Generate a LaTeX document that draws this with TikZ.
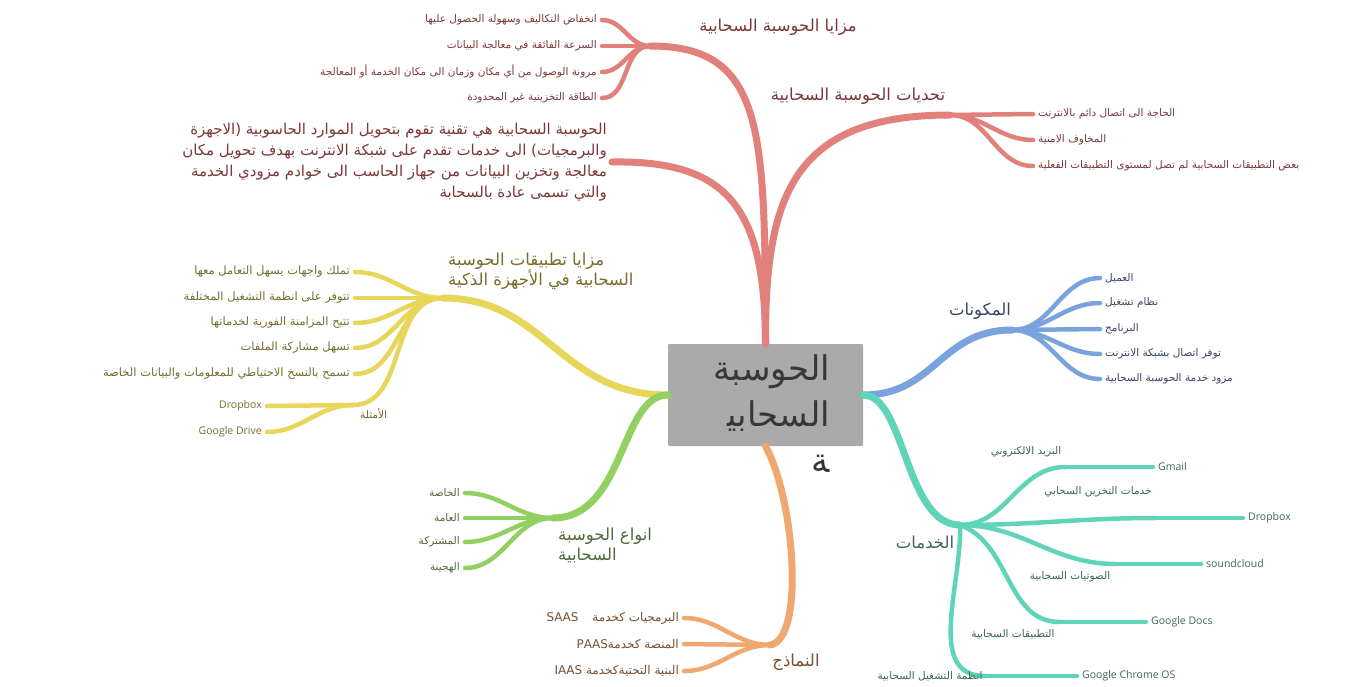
\documentclass[tikz,border=0pt]{standalone}
\usepackage{fontspec}
\setmainfont{Open Sans}
\newfontfamily\arabicfont[Script=Arabic]{DejaVu Sans}
\TeXXeTstate=1
\usetikzlibrary{positioning}
\newcommand{\artext}[1]{{\arabicfont\beginR #1\endR}}
\definecolor{redb}{RGB}{226,128,124}
\definecolor{redt}{RGB}{125,55,55}
\definecolor{yelb}{RGB}{232,214,90}
\definecolor{yelt}{RGB}{120,108,45}
\definecolor{grnb}{RGB}{146,208,98}
\definecolor{grnt}{RGB}{80,105,60}
\definecolor{orab}{RGB}{238,168,112}
\definecolor{orat}{RGB}{120,80,50}
\definecolor{blub}{RGB}{122,163,222}
\definecolor{blut}{RGB}{55,70,100}
\definecolor{tealb}{RGB}{96,212,184}
\definecolor{tealt}{RGB}{60,100,95}
\definecolor{boxg}{RGB}{170,170,170}
\tikzset{
  br/.style={line width=7pt, line cap=round},
  leaf/.style={line width=4.5pt, line cap=round},
  lbl/.style={font=\fontsize{16.5}{20}\selectfont, inner sep=2pt},
  sml/.style={font=\fontsize{10.5}{12}\selectfont, inner sep=5pt},
  lat/.style={font=\fontsize{10.5}{12}\selectfont, inner sep=5pt},
}
\begin{document}
\begin{tikzpicture}[x=1pt,y=-1pt]
\useasboundingbox[fill=white] (0,0) rectangle (1354,686);
\node[fill=boxg, rounded corners=1pt, minimum width=195pt, minimum height=102pt] (root) at (765.5,395) {};
% red
\coordinate (rj1) at (650,46);
\coordinate (rj2) at (950,115);
\draw[br, redb] (root.north) .. controls (765,130) and (765,46) .. (rj1);
\draw[br, redb] (root.north) .. controls (765,200) and (790,115) .. (rj2);
\node[lbl, redt] (rl1) at (778,27) {\artext{مزايا الحوسبة السحابية}};
\node[lbl, redt] (rl2) at (858,96) {\artext{تحديات الحوسبة السحابية}};
\node[sml, redt, anchor=east] (m1) at (602,20) {\artext{انخفاض التكاليف وسهولة الحصول عليها}};
\node[sml, redt, anchor=east] (m2) at (602,46) {\artext{السرعة الفائقة في معالجة البيانات}};
\node[sml, redt, anchor=east] (m3) at (602,72) {\artext{مرونة الوصول من أي مكان وزمان الى مكان الخدمة أو المعالجة}};
\node[sml, redt, anchor=east] (m4) at (602,98) {\artext{الطاقة التخزينية غير المحدودة}};
\draw[leaf, redb] (rj1) to[out=180,in=0] (m1.east);
\draw[leaf, redb] (rj1) -- (m2.east);
\draw[leaf, redb] (rj1) to[out=180,in=0] (m3.east);
\draw[leaf, redb] (rj1) to[out=180,in=0] (m4.east);
\node[sml, redt, anchor=west] (c1) at (1033,114) {\artext{الحاجة الى اتصال دائم بالانترنت}};
\node[sml, redt, anchor=west] (c2) at (1033,140) {\artext{المخاوف الامنية}};
\node[sml, redt, anchor=west] (c3) at (1033,166) {\artext{بعض التطبيقات السحابية لم تصل لمستوى التطبيقات الفعلية}};
\draw[leaf, redb] (rj2) -- (c1.west);
\draw[leaf, redb] (rj2) to[out=0,in=180] (c2.west);
\draw[leaf, redb] (rj2) to[out=0,in=180] (c3.west);
\node[redt, anchor=east, align=right, inner sep=5pt, font=\fontsize{15}{21}\selectfont] (rdef) at (612,162) {\artext{الحوسبة السحابية هي تقنية تقوم بتحويل الموارد الحاسوبية (الاجهزة}\\\artext{والبرمجيات) الى خدمات تقدم على شبكة الانترنت بهدف تحويل مكان}\\\artext{معالجة وتخزين البيانات من جهاز الحاسب الى خوادم مزودي الخدمة}\\\artext{والتي تسمى عادة بالسحابة}};
\draw[br, redb] (root.north) .. controls (765,210) and (730,160) .. (rdef.east);
% yellow
\coordinate (yj) at (443,298);
\coordinate (yj2) at (353,405);
\draw[br, yelb] (root.west) .. controls (560,395) and (545,298) .. (yj);
\node[lbl, yelt, anchor=south west, align=left] (yl) at (446,292) {\artext{مزايا تطبيقات الحوسبة}\\\artext{السحابية في الأجهزة الذكية}};
\node[sml, yelt, anchor=east, font=\fontsize{11.5}{13}\selectfont] (y1) at (355,272) {\artext{تملك واجهات يسهل التعامل معها}};
\node[sml, yelt, anchor=east, font=\fontsize{11.5}{13}\selectfont] (y2) at (355,298) {\artext{تتوفر على انظمة التشغيل المختلفة}};
\node[sml, yelt, anchor=east, font=\fontsize{11.5}{13}\selectfont] (y3) at (355,323) {\artext{تتيح المزامنة الفورية لخدماتها}};
\node[sml, yelt, anchor=east, font=\fontsize{11.5}{13}\selectfont] (y4) at (355,348) {\artext{تسهل مشاركة الملفات}};
\node[sml, yelt, anchor=east, font=\fontsize{11.5}{13}\selectfont] (y5) at (355,374) {\artext{تسمح بالنسخ الاحتياطي للمعلومات والبيانات الخاصة}};
\draw[leaf, yelb] (yj) to[out=180,in=0] (y1.east);
\draw[leaf, yelb] (yj) -- (y2.east);
\draw[leaf, yelb] (yj) to[out=180,in=0] (y3.east);
\draw[leaf, yelb] (yj) to[out=180,in=0] (y4.east);
\draw[leaf, yelb] (yj) to[out=180,in=0] (y5.east);
\draw[leaf, yelb] (yj) to[out=180,in=0] (yj2);
\node[sml, yelt, below right=-2pt and 2pt of yj2] (yl2) {\artext{الأمثلة}};
\node[lat, yelt, anchor=east] (yd1) at (267,406) {Dropbox};
\node[lat, yelt, anchor=east] (yd2) at (267,432) {Google Drive};
\draw[leaf, yelb] (yj2) -- (yd1.east);
\draw[leaf, yelb] (yj2) to[out=180,in=0] (yd2.east);
% green
\coordinate (gj) at (553,518);
\draw[br, grnb] (root.west) .. controls (620,395) and (625,518) .. (gj);
\node[lbl, grnt, anchor=north west, align=left] (gl) at (556,526) {\artext{انواع الحوسبة}\\\artext{السحابية}};
\node[sml, grnt, anchor=east] (g1) at (465,493) {\artext{الخاصة}};
\node[sml, grnt, anchor=east] (g2) at (465,518) {\artext{العامة}};
\node[sml, grnt, anchor=east] (g3) at (465,542) {\artext{المشتركة}};
\node[sml, grnt, anchor=east] (g4) at (465,568) {\artext{الهجينة}};
\draw[leaf, grnb] (gj) to[out=180,in=0] (g1.east);
\draw[leaf, grnb] (gj) -- (g2.east);
\draw[leaf, grnb] (gj) to[out=180,in=0] (g3.east);
\draw[leaf, grnb] (gj) to[out=180,in=0] (g4.east);
% orange
\coordinate (oj) at (770,645);
\draw[br, orab] (root.south) .. controls (795,500) and (805,640) .. (oj);
\node[lbl, orat] (ol) at (796,662) {\artext{النماذج}};
\node[sml, orat, anchor=east, font=\fontsize{12}{13}\selectfont] (o1) at (684,618) {\artext{البرمجيات كخدمة\hspace{14pt}\beginL SAAS\endL}};
\node[sml, orat, anchor=east, font=\fontsize{12}{13}\selectfont] (o2) at (684,644) {\artext{المنصة كخدمة\beginL PAAS\endL}};
\node[sml, orat, anchor=east, font=\fontsize{12}{13}\selectfont] (o3) at (684,671) {\artext{البنية التحتيةكخدمة \beginL IAAS\endL}};
\draw[leaf, orab] (oj) to[out=180,in=0] (o1.east);
\draw[leaf, orab] (oj) -- (o2.east);
\draw[leaf, orab] (oj) to[out=180,in=0] (o3.east);
% blue
\coordinate (bj) at (1012,330);
\draw[br, blub] (root.east) .. controls (935,395) and (940,330) .. (bj);
\node[lbl, blut] (bl) at (980,311) {\artext{المكونات}};
\node[sml, blut, anchor=west] (b1) at (1100,278) {\artext{العميل}};
\node[sml, blut, anchor=west] (b2) at (1100,303) {\artext{نظام تشغيل}};
\node[sml, blut, anchor=west] (b3) at (1100,329) {\artext{البرنامج}};
\node[sml, blut, anchor=west] (b4) at (1100,354) {\artext{توفر اتصال بشبكة الانترنت}};
\node[sml, blut, anchor=west] (b5) at (1100,379) {\artext{مزود خدمة الحوسبة السحابية}};
\draw[leaf, blub] (bj) to[out=0,in=180] (b1.west);
\draw[leaf, blub] (bj) to[out=0,in=180] (b2.west);
\draw[leaf, blub] (bj) -- (b3.west);
\draw[leaf, blub] (bj) to[out=0,in=180] (b4.west);
\draw[leaf, blub] (bj) to[out=0,in=180] (b5.west);
% teal
\coordinate (tj) at (960,525);
\draw[br, tealb] (root.east) .. controls (905,395) and (905,525) .. (tj);
\node[lbl, tealt] (tl) at (925,542) {\artext{الخدمات}};
\coordinate (ts1) at (1065,467);
\coordinate (ts2) at (1155,518);
\coordinate (ts3) at (1115,564);
\coordinate (ts4) at (1060,622);
\coordinate (ts5) at (985,676);
\draw[leaf, tealb] (tj) to[out=0,in=180] (ts1);
\draw[leaf, tealb] (tj) to[out=0,in=180] (ts2);
\draw[leaf, tealb] (tj) to[out=0,in=180] (ts3);
\draw[leaf, tealb] (tj) to[out=-20,in=180] (ts4);
\draw[leaf, tealb] (tj) to[out=-88,in=180] (ts5);
\node[sml, tealt] (tsl1) at (1026,452) {\artext{البريد الالكتروني}};
\node[sml, tealt] (tsl2) at (1098,492) {\artext{خدمات التخزين السحابي}};
\node[sml, tealt] (tsl3) at (1070,577) {\artext{الصوتيات السحابية}};
\node[sml, tealt] (tsl4) at (1013,634) {\artext{التطبيقات السحابية}};
\node[sml, tealt] (tsl5) at (930,676) {\artext{انظمة التشغيل السحابية}};
\node[lat, tealt, anchor=west] (tg1) at (1153,467) {Gmail};
\node[lat, tealt, anchor=west] (tg2) at (1243,518) {Dropbox};
\node[lat, tealt, anchor=west] (tg3) at (1201,564) {soundcloud};
\node[lat, tealt, anchor=west] (tg4) at (1146,622) {Google Docs};
\node[lat, tealt, anchor=west] (tg5) at (1077,676) {Google Chrome OS};
\draw[leaf, tealb] (ts1) -- (tg1.west);
\draw[leaf, tealb] (ts2) -- (tg2.west);
\draw[leaf, tealb] (ts3) -- (tg3.west);
\draw[leaf, tealb] (ts4) -- (tg4.west);
\draw[leaf, tealb] (ts5) -- (tg5.west);
% root text
\node[anchor=north east, align=right, inner sep=0pt, text={rgb,255:red,55;green,55;blue,55}, font=\fontsize{34}{46}\selectfont] (rtext) at (830,354) {\artext{الحوسبة}\\\artext{السحابي^^^^200d}\\\artext{^^^^200dة}};
\end{tikzpicture}
\end{document}
